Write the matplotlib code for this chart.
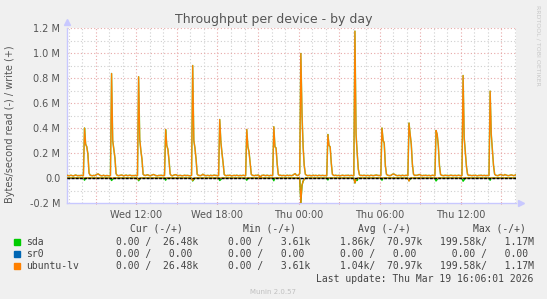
import numpy as np
import matplotlib
matplotlib.use("Agg")
import matplotlib.pyplot as plt
from matplotlib.patches import Rectangle
from matplotlib.ticker import FixedLocator, MultipleLocator, FuncFormatter

# 5 minute samples from Wed 06:50 to Thu 16:05, x in hours since Wed 00:00
start_hour = 6 + 50 / 60
step_hour = 5 / 60

# write traffic in kB/s (ubuntu-lv, sda has the same numbers), one list per 2h block
w_wed0650 = [19, 21, 18, 20, 22, 19, 17, 20, 24, 21, 18, 20, 19, 21]
w_wed08 = [20, 19, 400, 270, 250, 190, 40, 22, 20, 18, 21, 19, 24, 30, 33, 27, 20, 18, 19, 22, 17, 19, 20, 18]
w_wed10 = [18, 20, 836, 300, 230, 160, 35, 21, 19, 20, 22, 24, 20, 18, 21, 23, 19, 20, 22, 21, 18, 20, 19, 21]
w_wed12 = [20, 19, 810, 310, 220, 150, 30, 22, 20, 23, 26, 21, 19, 20, 24, 28, 26, 20, 19, 18, 21, 20, 22, 19]
w_wed14 = [21, 20, 388, 260, 230, 140, 32, 20, 18, 22, 25, 27, 22, 19, 20, 21, 19, 18, 20, 22, 19, 21, 20, 18]
w_wed16 = [19, 21, 900, 300, 240, 150, 30, 21, 20, 19, 22, 30, 24, 20, 19, 21, 20, 18, 22, 19, 20, 23, 21, 20]
w_wed18 = [20, 19, 468, 290, 200, 120, 28, 20, 19, 21, 20, 22, 19, 18, 20, 21, 19, 22, 20, 18, 21, 19, 20, 22]
w_wed20 = [19, 20, 388, 250, 210, 120, 30, 21, 20, 19, 22, 20, 24, 19, 3.61, 20, 21, 23, 20, 19, 22, 20, 18, 21]
w_wed22 = [20, 21, 410, 250, 240, 110, 28, 20, 22, 19, 20, 21, 18, 20, 22, 19, 21, 20, 19, 23, 30, 35, 22, 20]
w_thu00 = [24, 36, 996, 520, 250, 100, 30, 22, 19, 20, 21, 18, 20, 22, 19, 21, 20, 18, 22, 20, 19, 21, 20, 19]
w_thu02 = [20, 19, 348, 260, 250, 120, 30, 21, 20, 22, 19, 20, 21, 18, 20, 22, 20, 19, 21, 20, 22, 19, 20, 21]
w_thu04 = [19, 20, 1175, 350, 200, 70, 25, 20, 21, 19, 22, 20, 19, 21, 20, 18, 22, 21, 19, 20, 22, 24, 21, 20]
w_thu06 = [20, 21, 400, 300, 280, 100, 30, 22, 20, 19, 21, 28, 32, 30, 24, 20, 19, 21, 20, 18, 22, 20, 19, 21]
w_thu08 = [21, 20, 440, 350, 270, 110, 30, 20, 22, 21, 24, 28, 25, 20, 19, 21, 20, 22, 19, 20, 21, 18, 20, 22]
w_thu10 = [20, 19, 380, 350, 260, 100, 28, 21, 20, 19, 22, 20, 21, 19, 20, 22, 21, 19, 20, 21, 19, 20, 22, 20]
w_thu12 = [19, 21, 820, 320, 210, 90, 28, 20, 22, 20, 19, 21, 20, 22, 19, 18, 21, 20, 22, 19, 20, 21, 19, 20]
w_thu14 = [20, 21, 695, 350, 230, 100, 30, 22, 20, 19, 24, 28, 26, 22, 20, 28, 24, 21, 19, 20, 23, 25, 21, 19, 22, 26.48]

# read traffic in kB/s: only the non-zero samples (hour, value)
sda_read_hours = [8.17, 10.17, 10.25, 12.17, 12.25, 14.17, 16.17, 16.25, 18.17, 18.25, 20.17, 22.17,
                  24.17, 24.25, 24.33, 24.42, 26.17, 28.17, 28.25, 28.33, 30.17, 32.17, 32.25,
                  34.17, 34.25, 36.17, 36.25, 38.17]
sda_read_vals = [18, 20, 10, 22, 10, 18, 24, 12, 20, 12, 18, 22,
                 199.58, 60, 25, 10, 16, 40, 12, 20, 18, 22, 10,
                 24, 12, 26, 14, 18]
lv_read_hours = [12.17, 16.17, 24.17, 24.25, 24.33, 24.42, 28.17, 28.25, 32.17]
lv_read_vals = [15, 20, 199.58, 60, 25, 10, 40, 12, 25]

names = ["sda", "sr0", "ubuntu-lv"]
colors = ["#00cc00", "#0066b3", "#ff8000"]
cur_txt = ["0.00 /  26.48k", "0.00 /   0.00", "0.00 /  26.48k"]
min_txt = ["0.00 /   3.61k", "0.00 /   0.00", "0.00 /   3.61k"]
avg_txt = ["1.86k/  70.97k", "0.00 /   0.00", "1.04k/  70.97k"]
max_txt = ["199.58k/   1.17M", "  0.00 /   0.00", "199.58k/   1.17M"]

x_labels = ["Wed 12:00", "Wed 18:00", "Thu 00:00", "Thu 06:00", "Thu 12:00"]
x_label_hours = [12, 18, 24, 30, 36]

lv_write = np.array(w_wed0650 + w_wed08 + w_wed10 + w_wed12 + w_wed14 + w_wed16 + w_wed18 + w_wed20
                    + w_wed22 + w_thu00 + w_thu02 + w_thu04 + w_thu06 + w_thu08 + w_thu10 + w_thu12
                    + w_thu14) * 1000
sda_write = lv_write.copy()
n = len(lv_write)
hours = start_hour + np.arange(n) * step_hour

def read_series(hrs, vals):
    s = np.zeros(n)
    for h, v in zip(hrs, vals):
        s[int(round((h - start_hour) / step_hour))] = -v * 1000
    return s

sda_read = read_series(sda_read_hours, sda_read_vals)
lv_read = read_series(lv_read_hours, lv_read_vals)
sr0_line = np.zeros(n)

W, H = 547, 299
fig = plt.figure(figsize=(W / 100, H / 100), dpi=100)
fig.patch.set_facecolor("#f0f0f0")

ax = fig.add_axes([66.5 / W, 1 - 203 / H, (516 - 66.5) / W, (203 - 27.5) / H])
ax.set_facecolor("white")
ax.set_xlim(start_hour, 40.08)
ax.set_ylim(-200000, 1204000)

# grid
for h in range(7, 41):
    c = "#e8a8a8" if h % 3 == 0 else "#cfcfcf"
    ax.axvline(h, color=c, lw=0.8, ls=(0, (1, 2)), zorder=1)
for v in np.arange(-100000, 1200001, 100000):
    c = "#e8a8a8" if round(v / 100000) % 2 == 0 else "#cfcfcf"
    ax.axhline(v, color=c, lw=0.8, ls=(0, (1, 2)), zorder=1)

# sda sits right under ubuntu-lv, only a faint olive edge shows through
ax.plot(hours, sda_write, color=colors[0], lw=1.1, alpha=0.6, zorder=3)
ax.plot(hours, sda_read, color=colors[0], lw=1.0, zorder=3)
ax.plot(hours, sr0_line, color=colors[1], lw=0.8, zorder=4)
ax.plot(hours, lv_write, color=colors[2], lw=0.9, zorder=5)
ax.plot(hours, lv_read, color=colors[2], lw=0.9, zorder=5)
ax.axhline(0, color="black", lw=1, ls=(0, (2, 1)), zorder=6)

for s in ["top", "right"]:
    ax.spines[s].set_visible(False)
for s in ["left", "bottom"]:
    ax.spines[s].set_color("#c8c8ff")
    ax.spines[s].set_linewidth(1)
ax.plot([0], [1.03], marker="^", color="#c8c8ff", ms=4, transform=ax.transAxes, clip_on=False)
ax.plot([1.012], [0], marker=">", color="#c8c8ff", ms=4, transform=ax.transAxes, clip_on=False)

ax.xaxis.set_major_locator(FixedLocator(x_label_hours))
ax.set_xticklabels(x_labels)
ax.xaxis.set_minor_locator(MultipleLocator(3))
ax.yaxis.set_major_locator(MultipleLocator(200000))
ax.yaxis.set_major_formatter(FuncFormatter(lambda v, p: "0.0" if abs(v) < 1 else f"{v / 1e6:.1f} M"))
ax.tick_params(axis="x", which="both", length=2, color="#e08080", direction="inout",
               labelsize=7, labelcolor="#555555", pad=4)
ax.tick_params(axis="y", length=0, labelsize=7, labelcolor="#555555", pad=4.5)

fig.text(274 / W, 1 - 19 / H, "Throughput per device - by day", ha="center", va="center",
         fontsize=9, color="#555555")
fig.text(10 / W, 1 - 124 / H, "Bytes/second read (-) / write (+)", rotation=90,
         ha="center", va="center", fontsize=7, color="#555555")
fig.text(538 / W, 1 - 5 / H, "RRDTOOL / TOBI OETIKER", rotation=270, ha="center", va="top",
         fontsize=4.5, color="#c8c8c8")

mono = dict(family="DejaVu Sans Mono", fontsize=7, color="#444444", va="center")
for x, t in [(130, "Cur (-/+)"), (243, "Min (-/+)"), (358, "Avg (-/+)"), (473, "Max (-/+)")]:
    fig.text(x / W, 1 - 228.6 / H, t, **mono)
row_y = [242, 254, 266.3]
for i in range(3):
    y = 1 - row_y[i] / H
    fig.add_artist(Rectangle((14 / W, y - 2.6 / H), 5.5 / W, 5.5 / H, color=colors[i],
                             transform=fig.transFigure))
    fig.text(26 / W, y, names[i], **mono)
    fig.text(116 / W, y, cur_txt[i], **mono)
    fig.text(228 / W, y, min_txt[i], **mono)
    fig.text(339.5 / W, y, avg_txt[i], **mono)
    fig.text(440 / W, y, max_txt[i], **mono)
fig.text(533 / W, 1 - 279.5 / H, "Last update: Thu Mar 19 16:06:01 2026", ha="right", **mono)
fig.text(273 / W, 1 - 292.5 / H, "Munin 2.0.57", ha="center", va="center", fontsize=5, color="#c0c0c0")

fig.savefig("out.png", dpi=100, facecolor=fig.get_facecolor())
